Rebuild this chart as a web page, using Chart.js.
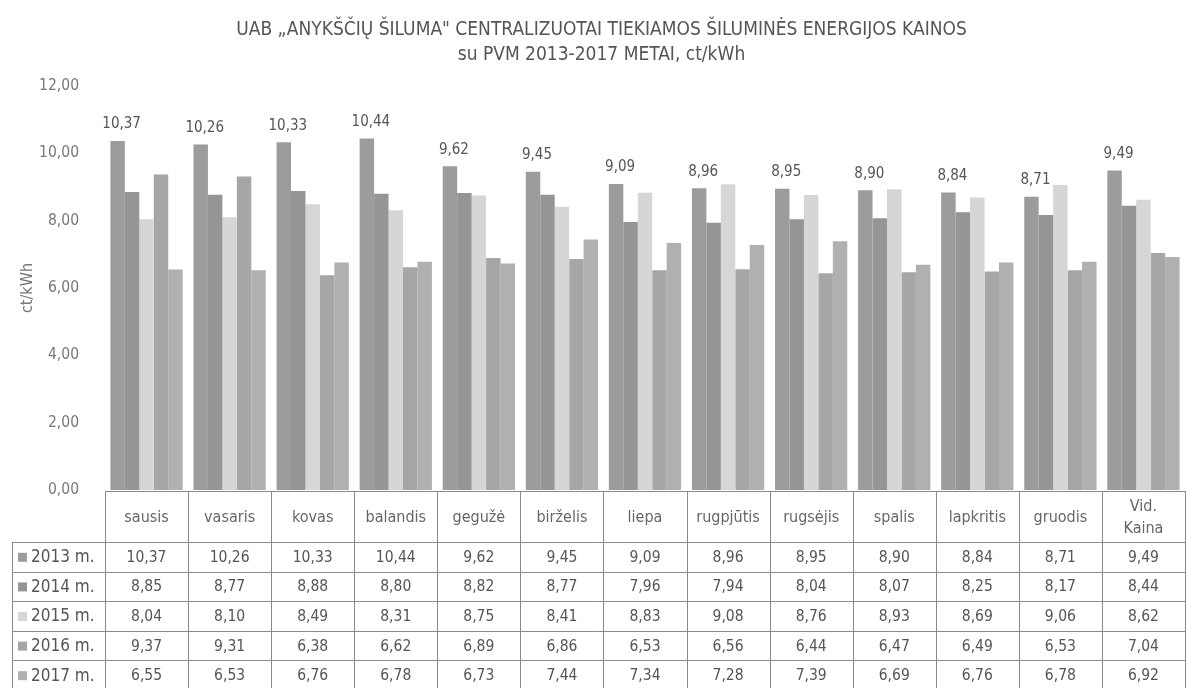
<!DOCTYPE html>
<html>
<head>
<meta charset="utf-8">
<script src="https://cdn.jsdelivr.net/npm/chart.js@4.4.1/dist/chart.umd.min.js"></script>
<style>
html,body{margin:0;padding:0;background:#fff;overflow:hidden;}
#wrap{width:1187px;height:688px;}
</style>
</head>
<body>
<div id="wrap"><canvas id="c" width="1187" height="688"></canvas></div>
<script>
const categories = ["sausis","vasaris","kovas","balandis","gegužė","birželis","liepa","rugpjūtis","rugsėjis","spalis","lapkritis","gruodis",["Vid.","Kaina"]];
const seriesNames = ["2013 m.","2014 m.","2015 m.","2016 m.","2017 m."];
const v2013 = [10.37,10.26,10.33,10.44,9.62,9.45,9.09,8.96,8.95,8.90,8.84,8.71,9.49];
const v2014 = [8.85,8.77,8.88,8.80,8.82,8.77,7.96,7.94,8.04,8.07,8.25,8.17,8.44];
const v2015 = [8.04,8.10,8.49,8.31,8.75,8.41,8.83,9.08,8.76,8.93,8.69,9.06,8.62];
const v2016 = [9.37,9.31,6.38,6.62,6.89,6.86,6.53,6.56,6.44,6.47,6.49,6.53,7.04];
const v2017 = [6.55,6.53,6.76,6.78,6.73,7.44,7.34,7.28,7.39,6.69,6.76,6.78,6.92];
const yTicks = [0,2,4,6,8,10,12];
const colors = ["#9c9c9c","#959595","#d6d6d6","#a6a6a6","#b0b0b0"];

const FONT = '"Liberation Sans Narrow","DejaVu Sans Condensed","Liberation Sans",sans-serif';
const fmt = v => v.toFixed(2).replace('.', ',');
const allSeries = [v2013,v2014,v2015,v2016,v2017];

const tablePlugin = {
  id: 'tablePlugin',
  afterDraw(chart) {
    const ctx = chart.ctx;
    const x = chart.scales.x;
    const area = chart.chartArea;
    const n = categories.length;
    const step = (x.getPixelForValue(1) - x.getPixelForValue(0));
    const left = x.getPixelForValue(0) - step/2;
    const right = x.getPixelForValue(n-1) + step/2;
    const top = area.bottom + 1;
    const headerH = 51;
    const rowH = 29.6;
    const tableBottom = top + headerH + rowH*5;
    const labelLeft = 12;
    ctx.save();
    ctx.strokeStyle = '#8a8a8a';
    ctx.lineWidth = 1;
    ctx.beginPath();
    ctx.moveTo(left, top+0.5); ctx.lineTo(right, top+0.5);
    for (let r = 0; r <= 5; r++) {
      const yy = Math.round(top + headerH + r*rowH) + 0.5;
      ctx.moveTo(labelLeft, yy); ctx.lineTo(right, yy);
    }
    for (let i = 0; i <= n; i++) {
      const xx = Math.round(left + i*step) + 0.5;
      ctx.moveTo(xx, top); ctx.lineTo(xx, tableBottom);
    }
    ctx.moveTo(labelLeft+0.5, top+headerH); ctx.lineTo(labelLeft+0.5, tableBottom);
    ctx.stroke();
    ctx.fillStyle = '#666';
    ctx.font = '16px ' + FONT;
    ctx.textAlign = 'center';
    ctx.textBaseline = 'middle';
    categories.forEach((c, i) => {
      const cx = x.getPixelForValue(i);
      if (Array.isArray(c)) {
        ctx.fillText(c[0], cx, top + headerH/2 - 10);
        ctx.fillText(c[1], cx, top + headerH/2 + 12);
      } else {
        ctx.fillText(c, cx, top + headerH/2 + 1);
      }
    });
    allSeries.forEach((vals, r) => {
      const cy = top + headerH + r*rowH + rowH/2 + 1;
      ctx.fillStyle = colors[r];
      ctx.fillRect(labelLeft + 6, cy - 5, 9, 9);
      ctx.fillStyle = '#555';
      ctx.textAlign = 'left';
      ctx.font = '17px ' + FONT;
      ctx.fillText(seriesNames[r], labelLeft + 19, cy);
      ctx.textAlign = 'center';
      ctx.font = '15.5px ' + FONT;
      vals.forEach((v, i) => {
        ctx.fillText(fmt(v), x.getPixelForValue(i), cy);
      });
    });
    const meta = chart.getDatasetMeta(0);
    ctx.font = '15px ' + FONT;
    ctx.fillStyle = '#555';
    ctx.textBaseline = 'bottom';
    meta.data.forEach((bar, i) => {
      ctx.fillText(fmt(v2013[i]), bar.x + 4, bar.y - 9);
    });
    ctx.restore();
  }
};

new Chart(document.getElementById('c'), {
  type: 'bar',
  data: {
    labels: categories,
    datasets: allSeries.map((vals, i) => ({
      label: seriesNames[i],
      data: vals,
      backgroundColor: colors[i],
      borderWidth: 0,
      categoryPercentage: 0.87,
      barPercentage: 1.0
    }))
  },
  options: {
    responsive: false,
    animation: false,
    devicePixelRatio: 1,
    layout: { padding: { left: 18, right: 2, top: 0, bottom: 198 } },
    plugins: {
      legend: { display: false },
      tooltip: { enabled: false },
      title: {
        display: true,
        text: ['UAB „ANYKŠČIŲ ŠILUMA" CENTRALIZUOTAI TIEKIAMOS ŠILUMINĖS ENERGIJOS KAINOS', 'su PVM 2013-2017 METAI, ct/kWh'],
        color: '#555',
        font: { family: FONT, size: 19, weight: 'normal', lineHeight: 1.316 },
        padding: { top: 18, bottom: 18 }
      }
    },
    scales: {
      x: { display: false },
      y: {
        min: 0, max: 12,
        afterBuildTicks: s => { s.ticks = yTicks.map(v => ({ value: v })); },
        afterFit: s => { s.width = 87; },
        grid: { display: false },
        border: { display: false },
        ticks: { color: '#777', font: { family: FONT, size: 15.5 }, padding: 18, callback: v => fmt(v) },
        title: { display: true, text: 'ct/kWh', color: '#777', font: { family: FONT, size: 16 }, padding: 0 }
      }
    }
  },
  plugins: [tablePlugin]
});
</script>
</body>
</html>
